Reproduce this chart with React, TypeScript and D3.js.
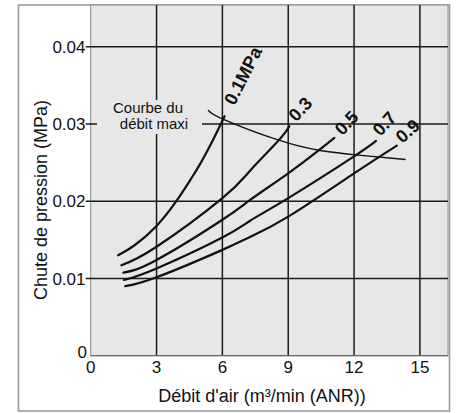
import * as d3 from "d3";

type Pt = [number, number];

// pressure curves, x = air flow (m3/min ANR), y = pressure drop (MPa)
const p01: Pt[] = [[1.25, 0.013], [2, 0.0143], [3, 0.0168], [3.9, 0.02], [4.55, 0.0228], [5, 0.0249], [5.6, 0.0281], [6.1, 0.031]];
const p03: Pt[] = [[1.4, 0.0117], [3, 0.0141], [6, 0.0204], [7.28, 0.024], [8.57, 0.0279], [9.05, 0.0297]];
const p05: Pt[] = [[1.49, 0.01075], [3, 0.0124], [6, 0.0176], [7.28, 0.0202], [9, 0.0236], [10.4, 0.0266], [11.1, 0.0282]];
const p07: Pt[] = [[1.52, 0.0098], [3, 0.0113], [6, 0.0153], [7.28, 0.0175], [9, 0.0204], [12, 0.0258], [13.0, 0.0278]];
const p09: Pt[] = [[1.57, 0.009], [3, 0.01015], [6, 0.0137], [7.28, 0.0154], [9, 0.018], [12, 0.0236], [13.95, 0.0272]];
const maxFlow: Pt[] = [[5.35, 0.0318], [6.05, 0.0306], [8.57, 0.0279], [10.4, 0.0266], [12.07, 0.026], [14.35, 0.0254]];

const seriesLabels = ["0.1MPa", "0.3", "0.5", "0.7", "0.9"];
// label anchor (data coords) and rotation
const labelPos: Pt[] = [[6.55, 0.0323], [9.37, 0.0302], [11.47, 0.0284], [13.21, 0.0283], [14.21, 0.0274]];
const labelAngle = [-63, -47, -47, -48, -42];

const xTicks = [0, 3, 6, 9, 12, 15];
const yTicks = [0, 0.01, 0.02, 0.03, 0.04];
const yTickLabels = ["0", "0.01", "0.02", "0.03", "0.04"];

const W = 457;
const H = 413;
const FONT = "'Liberation Sans', Arial, Helvetica, sans-serif";

export default function App() {
  const left = 90.7, right = 448, top = 5, bottom = 355.7;

  const x = d3.scaleLinear().domain([0, 16.28]).range([left, right]);
  const y = d3.scaleLinear().domain([0, 0.0454]).range([bottom, top]);

  const line = d3
    .line<Pt>()
    .x((d) => x(d[0]))
    .y((d) => y(d[1]))
    .curve(d3.curveNatural);

  const curves = [p01, p03, p05, p07, p09];

  return (
    <svg
      width={W}
      height={H}
      viewBox={`0 0 ${W} ${H}`}
      style={{ position: "absolute", left: 0, top: 0, background: "#fff" }}
      fontFamily={FONT}
    >
      {/* outer frame */}
      <rect x={18.5} y={5} width={431} height={406} fill="#fff" stroke="#9a9a9a" strokeWidth={1.6} />

      {/* plot area */}
      <rect x={left} y={top} width={right - left} height={bottom - top} fill="#e7e7e7" stroke="#8a8a8a" strokeWidth={1} />

      {/* grid */}
      {xTicks.filter((t) => t > 0).map((t) => (
        <line key={"gx" + t} x1={x(t)} x2={x(t)} y1={top} y2={bottom} stroke="#1a1a1a" strokeWidth={1.5} />
      ))}
      {yTicks.filter((t) => t > 0).map((t) => (
        <line key={"gy" + t} x1={left - 5} x2={right} y1={y(t)} y2={y(t)} stroke="#1a1a1a" strokeWidth={1.5} />
      ))}
      <line x1={left} x2={right} y1={bottom} y2={bottom} stroke="#6a6a6a" strokeWidth={1.2} />

      {/* annotation background hides grid behind text */}
      <rect x={97} y={100} width={105} height={34} fill="#e7e7e7" />
      <text x={148} y={112.5} fontSize={15} textAnchor="middle" fill="#111">Courbe du</text>
      <text x={154} y={129} fontSize={15} textAnchor="middle" fill="#111">débit maxi</text>

      {/* curves */}
      {curves.map((c, i) => (
        <path key={"c" + i} d={line(c) ?? ""} fill="none" stroke="#111" strokeWidth={2.2} strokeLinecap="round" />
      ))}
      <path d={line(maxFlow) ?? ""} fill="none" stroke="#111" strokeWidth={1.4} />

      {/* curve labels */}
      {seriesLabels.map((s, i) => (
        <text
          key={"l" + i}
          transform={`translate(${x(labelPos[i][0])},${y(labelPos[i][1])}) rotate(${labelAngle[i]})`}
          fontSize={18}
          fontWeight="bold"
          fill="#111"
        >
          {s}
        </text>
      ))}

      {/* y tick labels */}
      {yTicks.map((t, i) => (
        <text
          key={"yl" + t}
          x={t === 0 ? 87 : 85.5}
          y={y(t) + (t === 0 ? -3.5 : 0)}
          dy="0.36em"
          fontSize={17}
          textAnchor="end"
          fill="#111"
        >
          {yTickLabels[i]}
        </text>
      ))}

      {/* x tick labels */}
      {xTicks.map((t) => (
        <text key={"xl" + t} x={x(t)} y={373} fontSize={17} textAnchor="middle" fill="#111">
          {t}
        </text>
      ))}

      {/* axis titles */}
      <text x={262} y={402} fontSize={18} textAnchor="middle" fill="#111">
        Débit d'air (m³/min (ANR))
      </text>
      <text transform="translate(47,200) rotate(-90)" fontSize={18} textAnchor="middle" fill="#111">
        Chute de pression (MPa)
      </text>
    </svg>
  );
}
